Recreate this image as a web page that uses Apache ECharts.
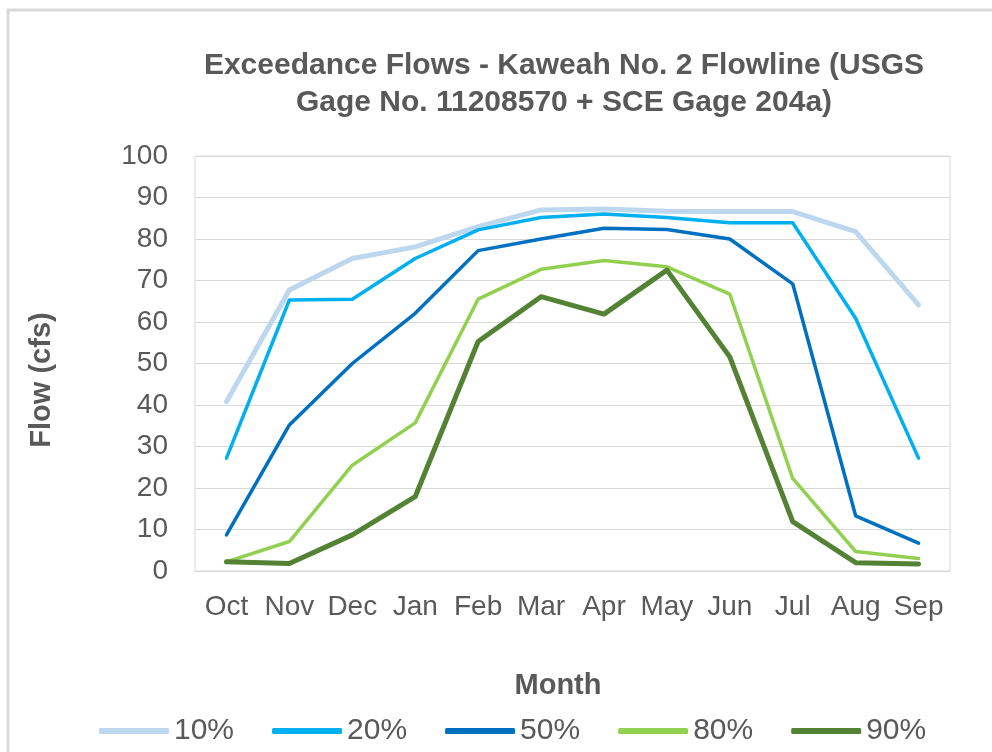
<!DOCTYPE html>
<html>
<head>
<meta charset="utf-8">
<script src="https://cdn.jsdelivr.net/npm/echarts@6/dist/echarts.min.js"></script>
<style>
html,body{margin:0;padding:0;background:#fff;}
#chart{width:992px;height:752px;}
</style>
</head>
<body>
<div id="chart"></div>
<script>
const months = ['Oct','Nov','Dec','Jan','Feb','Mar','Apr','May','Jun','Jul','Aug','Sep'];
const yTicks = [0,10,20,30,40,50,60,70,80,90,100];
const seriesNames = ['10%','20%','50%','80%','90%'];
const flow10 = [40.8, 67.7, 75.3, 78.1, 83.0, 87.0, 87.2, 86.7, 86.6, 86.6, 81.8, 64.1];
const flow20 = [27.2, 65.3, 65.5, 75.3, 82.2, 85.2, 86.0, 85.2, 83.9, 83.9, 60.9, 27.2];
const flow50 = [8.7, 35.2, 50.0, 62.1, 77.2, 80.0, 82.6, 82.3, 80.0, 69.2, 13.3, 6.7];
const flow80 = [2.2, 7.1, 25.5, 35.7, 65.5, 72.7, 74.8, 73.3, 66.7, 22.3, 4.7, 3.0];
const flow90 = [2.2, 1.8, 8.7, 17.9, 55.3, 66.1, 61.9, 72.5, 51.6, 11.9, 2.0, 1.7];

const values = [flow10, flow20, flow50, flow80, flow90];
const colors = ['#BDD7EE', '#00B0F0', '#0070C0', '#92D050', '#548235'];
const widths = [5, 3.5, 3.5, 3.5, 5];
const textColor = '#595959';
const font = 'Liberation Sans, Arial, sans-serif';

const chart = echarts.init(document.getElementById('chart'));
chart.setOption({
  animation: false,
  backgroundColor: '#ffffff',
  title: {
    text: 'Exceedance Flows - Kaweah No. 2 Flowline (USGS\nGage No. 11208570 + SCE Gage 204a)',
    left: 559,
    top: 42,
    textAlign: 'center',
    textStyle: {
      fontFamily: font, fontSize: 30, fontWeight: 'bold', color: textColor, lineHeight: 37
    }
  },
  grid: {
    left: 195, right: 42, top: 156, bottom: 181,
    show: true, borderColor: '#d9d9d9', borderWidth: 1
  },
  xAxis: {
    type: 'category',
    data: months,
    boundaryGap: true,
    axisLine: { show: true, lineStyle: { color: '#d9d9d9' } },
    axisTick: { show: false },
    axisLabel: { fontFamily: font, fontSize: 28, color: textColor, margin: 22, interval: 0 }
  },
  yAxis: {
    type: 'value',
    min: yTicks[0], max: yTicks[yTicks.length - 1], interval: 10,
    axisLine: { show: false },
    axisTick: { show: false },
    splitLine: { show: true, lineStyle: { color: '#d9d9d9', width: 1 } },
    axisLabel: { fontFamily: font, fontSize: 28, color: textColor, margin: 27 }
  },
  legend: {
    data: seriesNames,
    left: 94,
    top: 711,
    itemWidth: 70,
    itemHeight: 6,
    itemGap: 38,
    icon: 'roundRect',
    textStyle: { fontFamily: font, fontSize: 30, color: textColor }
  },
  graphic: [
    {
      type: 'rect', silent: true, z: -1,
      shape: { x: 8, y: 10, width: 1200, height: 1000 },
      style: { fill: 'none', stroke: '#d9d9d9', lineWidth: 3 }
    },
    {
      type: 'text', silent: true,
      x: 42, y: 380, rotation: Math.PI / 2,
      style: {
        text: 'Flow (cfs)', fontFamily: font, fontSize: 29, fontWeight: 'bold',
        fill: textColor, align: 'center', verticalAlign: 'middle'
      }
    },
    {
      type: 'text', silent: true,
      x: 558, y: 686,
      style: {
        text: 'Month', fontFamily: font, fontSize: 29, fontWeight: 'bold',
        fill: textColor, align: 'center', verticalAlign: 'middle'
      }
    }
  ],
  series: seriesNames.map((name, i) => ({
    name: name,
    type: 'line',
    data: values[i],
    symbol: 'none',
    showSymbol: false,
    color: colors[i],
    lineStyle: { color: colors[i], width: widths[i], cap: 'round', join: 'round' },
    z: 2 + i
  }))
});
</script>
</body>
</html>
